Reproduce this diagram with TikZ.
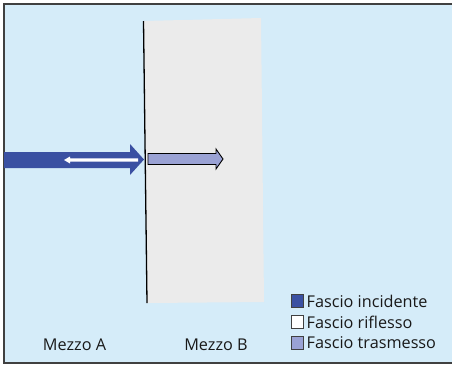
\documentclass[tikz,border=0pt]{standalone}
\usepackage{fontspec}
\setmainfont{Open Sans}
\begin{document}
\begin{tikzpicture}[x=1bp,y=-1bp,
  lbl/.style={font=\fontsize{16.3}{18}\selectfont, text=black!90, inner sep=0pt},
  keybox/.style={draw=black!75, line width=0.8bp, minimum size=12.5bp, inner sep=0pt},
  keytext/.style={lbl, anchor=west}]
\definecolor{bgblue}{HTML}{D5ECF9}
\definecolor{slab}{HTML}{EBEBEB}
\definecolor{incid}{HTML}{3A50A2}
\definecolor{trans}{HTML}{9AA2D4}
\useasboundingbox (0,0) rectangle (452,366);
\begin{scope}
\clip (0,0) rectangle (452,366);
% frame with light blue medium
\fill[bgblue] (4,4) rectangle (460,363);
\draw[black!75, line width=1.6bp] (4,4) rectangle (460,363);
% medium B slab
\fill[slab] (144,21) -- (261,18) -- (264,302) -- (147,303) -- cycle;
\end{scope}
% interface line
\coordinate (itop) at (143.5,21);
\coordinate (ibot) at (147,303);
\draw[black, line width=1.3bp] (itop) -- (ibot);
% incident beam
\fill[incid] (4,152) -- (130,152) -- (130,144) -- (144,159.5) -- (130,175) -- (130,168) -- (4,168) -- cycle;
% reflected beam
\fill[white] (138,158.3) -- (70,158.3) -- (70,156.5) -- (64,160) -- (70,163.5) -- (70,161.7) -- (138,161.7) -- cycle;
% transmitted beam
\draw[black, line width=0.9bp, fill=trans] (148,153.5) -- (216,153.5) -- (216,149) -- (223,159) -- (216,169) -- (216,164.5) -- (148,164.5) -- cycle;
% labels of the media
\node[lbl] (ma) at (74.5,344.5) {Mezzo A};
\node[lbl] (mb) at (216,344.5) {Mezzo B};
% legend
\node[keybox, fill=incid] (k1) at (297.5,301) {};
\node[keybox, fill=white] (k2) at (297.5,322) {};
\node[keybox, fill=trans] (k3) at (297.5,343) {};
\node[keytext] (t1) at (306.5,301) {Fascio incidente};
\node[keytext] (t2) at (306.5,322) {Fascio riflesso};
\node[keytext] (t3) at (306.5,343) {Fascio trasmesso};
\end{tikzpicture}
\end{document}
